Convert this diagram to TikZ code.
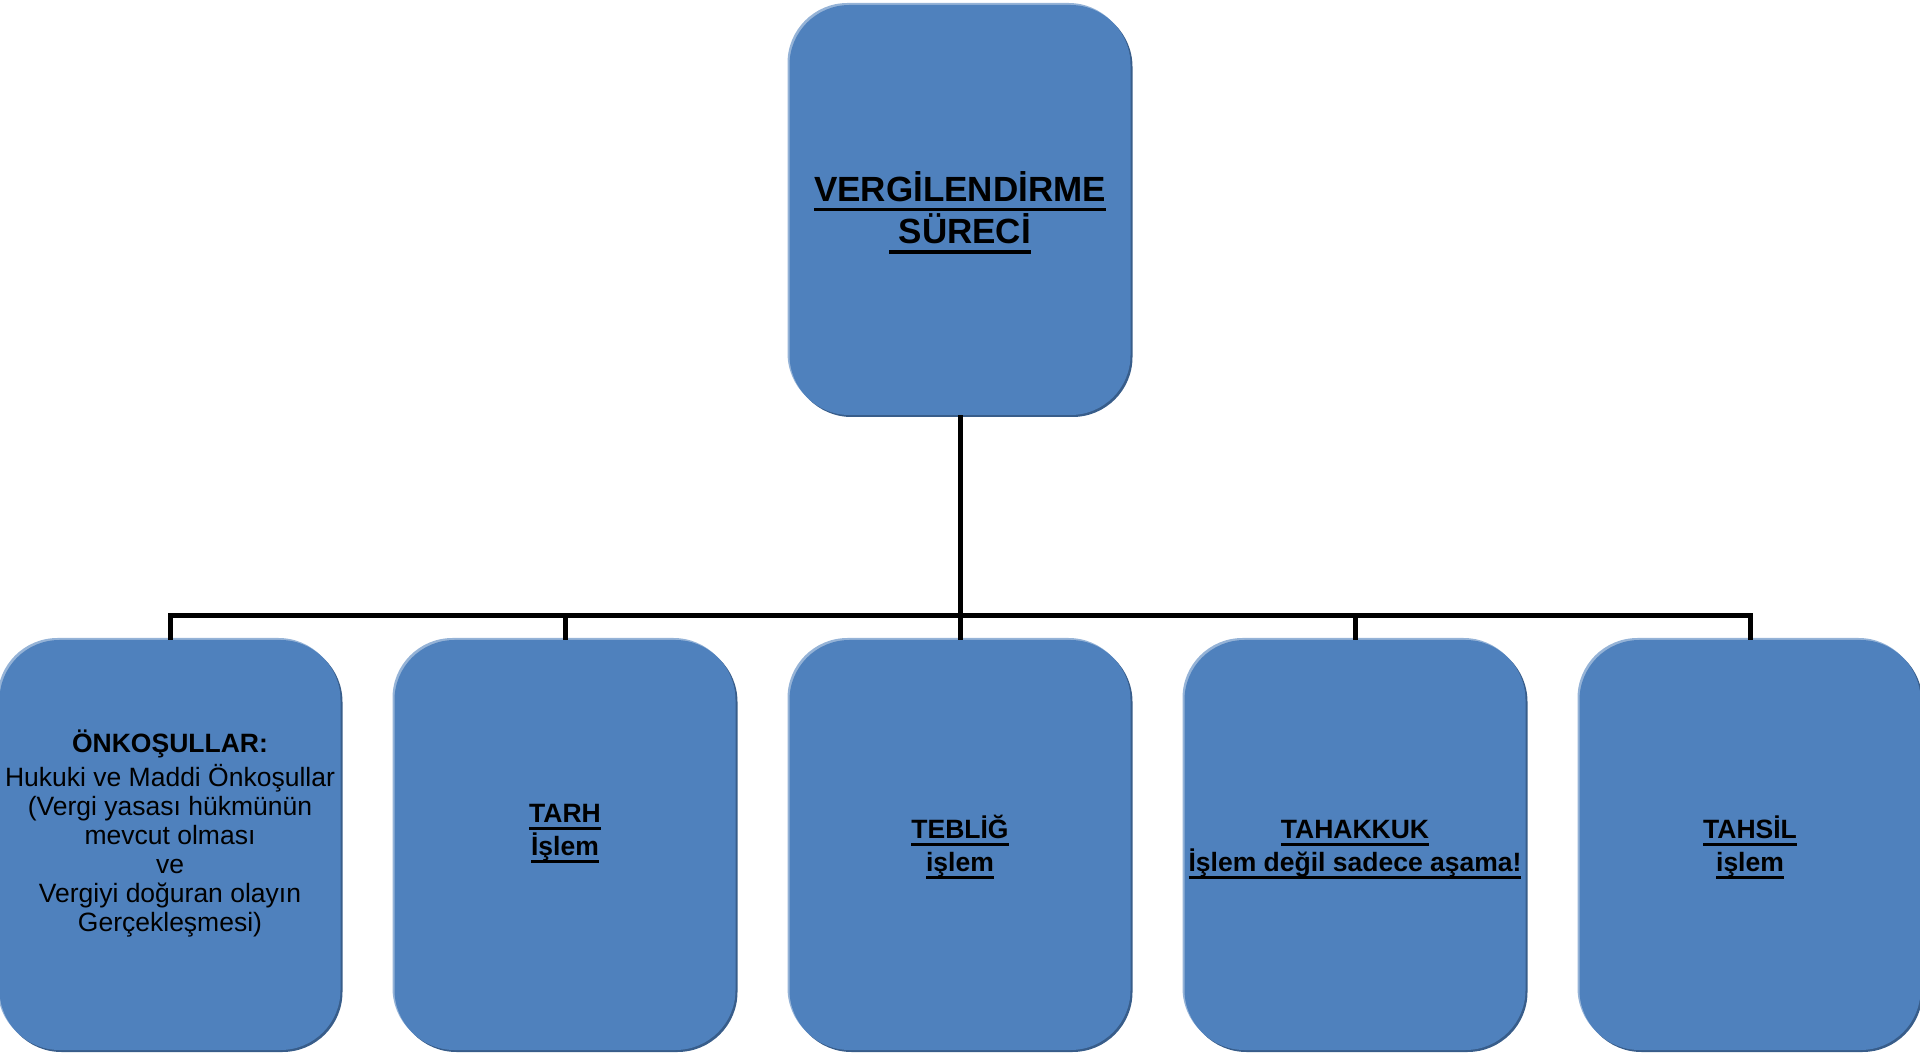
\documentclass[tikz,border=0pt]{standalone}
\usepackage{fontspec}
\setmainfont{Liberation Sans}
\usetikzlibrary{positioning, shadows}

\definecolor{kutumavi}{HTML}{4F81BD}
\definecolor{koyumavi}{HTML}{385D8A}
\definecolor{acikmavi}{HTML}{95B3D7}
\newsavebox{\altkutu}
\newcommand{\altciz}[1]{\leavevmode\sbox{\altkutu}{#1}\rlap{\rule[-.28em]{\wd\altkutu}{.11em}}\usebox{\altkutu}}
% yaziyi kutu icinde yukari/asagi kaydirir
\newcommand{\yazi}[2][0pt]{\raisebox{#1}[\height][\depth]{\begin{tabular}{@{}c@{}}#2\end{tabular}}}

\tikzset{
	kutu/.style={rounded corners=60pt, fill=kutumavi, draw=none,
		general shadow={fill=koyumavi, shadow xshift=2pt, shadow yshift=-2pt},
		general shadow={fill=acikmavi, shadow xshift=-2pt, shadow yshift=2pt},
		minimum width=341pt, minimum height=410pt, inner sep=0pt, align=center}, % her kutu
	baslik/.style={font=\fontsize{35}{41}\selectfont\bfseries}, % ust kutunun yazisi
	asama/.style={font=\fontsize{26.5}{33}\selectfont\bfseries}, % alt kutularin yazisi
	baglanti/.style={line width=5pt, black}, % agac cizgileri
}

\begin{document}
\begin{tikzpicture}[node distance=395pt, on grid]
	\useasboundingbox (0,0) rectangle (1920pt,1053pt);
	% Kök
	\node[kutu, baslik] (kok) at (960pt,843pt) {\yazi[-4pt]{\altciz{VERGİLENDİRME}\\\altciz{\ SÜRECİ}}};
	
	% Aşamalar
	\node[kutu, asama, below=635pt of kok] (teblig) {\yazi[-3pt]{\altciz{TEBLİĞ}\\\altciz{işlem}}};
	\node[kutu, asama, left=of teblig] (tarh) {\yazi[13pt]{\altciz{TARH}\\\altciz{İşlem}}};
	\node[kutu, font=\fontsize{26.5}{29}\selectfont, left=of tarh] (onk) {\yazi[10pt]{\textbf{ÖNKOŞULLAR:}\\[3pt]Hukuki ve Maddi Önkoşullar\\(Vergi yasası hükmünün\\mevcut olması\\ve\\Vergiyi doğuran olayın\\Gerçekleşmesi)}};
	\node[kutu, asama, right=of teblig] (tahakkuk) {\yazi[-3pt]{\altciz{TAHAKKUK}\\\altciz{İşlem değil sadece aşama!}}};
	\node[kutu, asama, right=of tahakkuk] (tahsil) {\yazi[-3pt]{\altciz{TAHSİL}\\\altciz{işlem}}};
	
	% Bağlantılar
	\coordinate[below=200pt of kok.south] (catal);
	\draw[baglanti] (kok) -- (catal);
	\foreach \n in {onk, tarh, teblig, tahakkuk, tahsil}
		\draw[baglanti] (catal) -| (\n);
\end{tikzpicture}
\end{document}
